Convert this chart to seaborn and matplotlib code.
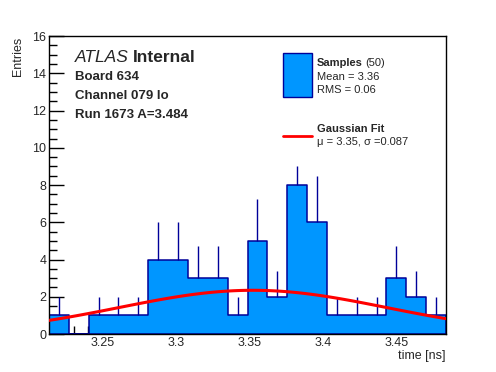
import numpy as np
import pandas as pd
import matplotlib
matplotlib.use("Agg")
import matplotlib.pyplot as plt
from matplotlib.ticker import MultipleLocator
from matplotlib.patches import Rectangle
from matplotlib.lines import Line2D
import seaborn as sns

# ---- data ----
x_min = 3.2132
x_max = 3.4836
n_bins = 20
counts = [1, 0, 1, 1, 1, 4, 4, 3, 3, 1, 5, 2, 8, 6, 1, 1, 1, 3, 2, 1]
upper_err = [1.0, 0.0, 1.0, 1.0, 1.0, 2.0, 2.0, 1.73, 1.73, 1.0, 2.24, 1.41,
             1.0, 2.49, 1.0, 1.0, 1.0, 1.73, 1.41, 1.0]
fit_mu = 3.352
fit_sigma = 0.091
fit_amp = 2.35
x_ticks = [3.25, 3.30, 3.35, 3.40, 3.45]
x_tick_labels = ["3.25", "3.3", "3.35", "3.4", "3.45"]
y_ticks = [0, 2, 4, 6, 8, 10, 12, 14, 16]

sns.set_style("white")
plt.rcParams["font.family"] = ["Liberation Sans", "DejaVu Sans"]

fill_c = "#0096FF"
edge_c = "#000099"

edges = np.linspace(x_min, x_max, n_bins + 1)
centers = 0.5 * (edges[:-1] + edges[1:])
df = pd.DataFrame({"time": centers, "n": counts})

fig = plt.figure(figsize=(4.96, 3.72), dpi=100)
ax = fig.add_axes([0.0988, 0.102, 0.8004, 0.801])

sns.histplot(data=df, x="time", weights="n", bins=n_bins, binrange=(x_min, x_max),
             element="step", fill=True, color=fill_c, alpha=1.0, edgecolor=edge_c,
             linewidth=1.1, ax=ax)

cnt = np.array(counts, dtype=float)
err = np.array(upper_err)
mask = cnt > 0
ax.vlines(centers[mask], cnt[mask], cnt[mask] + err[mask], color=edge_c, lw=1.0, zorder=3)

xf = np.linspace(x_min, x_max, 100)
yf = fit_amp * np.exp(-0.5 * ((xf - fit_mu) / fit_sigma) ** 2)
sns.lineplot(x=xf, y=yf, color="#FF0000", lw=2.2, ax=ax, zorder=4)

ax.set_xlim(x_min, x_max)
ax.set_ylim(0, 16)
ax.set_xticks(x_ticks)
ax.set_xticklabels(x_tick_labels)
ax.set_yticks(y_ticks)
ax.xaxis.set_minor_locator(MultipleLocator(0.01))
ax.yaxis.set_minor_locator(MultipleLocator(0.5))
ax.tick_params(axis="both", which="major", direction="in", length=11, width=1,
               labelsize=9, top=False, right=False, bottom=True, left=True,
               color="black")
ax.tick_params(axis="both", which="minor", direction="in", length=5.5, width=1,
               top=False, right=False, bottom=True, left=True, color="black")
ax.tick_params(axis="x", which="major", pad=2)
ax.tick_params(axis="y", which="major", pad=2)
for s in ax.spines.values():
    s.set_color("black")
    s.set_linewidth(1.0)
ax.set_xlabel("")
ax.set_ylabel("")
fig.text(0.899, 1 - 362 / 372, "time [ns]", ha="right", va="bottom", fontsize=9)
fig.text(0.036, 0.902, "Entries", ha="center", va="top", rotation=90, fontsize=9)

# annotations
fig.text(75 / 496, 1 - 58 / 372, "ATLAS", ha="left", va="center", fontsize=12.5, style="italic")
fig.text(75 / 496 + 0.117, 1 - 58 / 372, "Internal", ha="left", va="center", fontsize=12.5, weight="bold")
fig.text(75 / 496, 1 - 77 / 372, "Board 634", ha="left", va="center", fontsize=9.5, weight="bold")
fig.text(75 / 496, 1 - 96 / 372, "Channel 079 lo", ha="left", va="center", fontsize=9.5, weight="bold")
fig.text(75 / 496, 1 - 115 / 372, "Run 1673 A=3.484", ha="left", va="center", fontsize=9.5, weight="bold")

# legend
fig.patches.append(Rectangle((283 / 496, 1 - 97 / 372), 29 / 496, 44 / 372,
                             transform=fig.transFigure, facecolor=fill_c,
                             edgecolor=edge_c, lw=1.0, figure=fig))
fig.text(317 / 496, 1 - 63 / 372, "Samples", ha="left", va="center", fontsize=8, weight="bold")
fig.text(317 / 496 + 0.097, 1 - 63 / 372, "(50)", ha="left", va="center", fontsize=8)
fig.text(317 / 496, 1 - 77 / 372, "Mean = 3.36", ha="left", va="center", fontsize=8)
fig.text(317 / 496, 1 - 90 / 372, "RMS = 0.06", ha="left", va="center", fontsize=8)
fig.lines.append(Line2D([283 / 496, 312 / 496], [1 - 136 / 372] * 2,
                        transform=fig.transFigure, color="#FF0000", lw=2.0, figure=fig))
fig.text(317 / 496, 1 - 129 / 372, "Gaussian Fit", ha="left", va="center", fontsize=8, weight="bold")
fig.text(317 / 496, 1 - 142 / 372, "μ = 3.35, σ =0.087", ha="left", va="center", fontsize=8)

fig.savefig("out.png", dpi=100)
